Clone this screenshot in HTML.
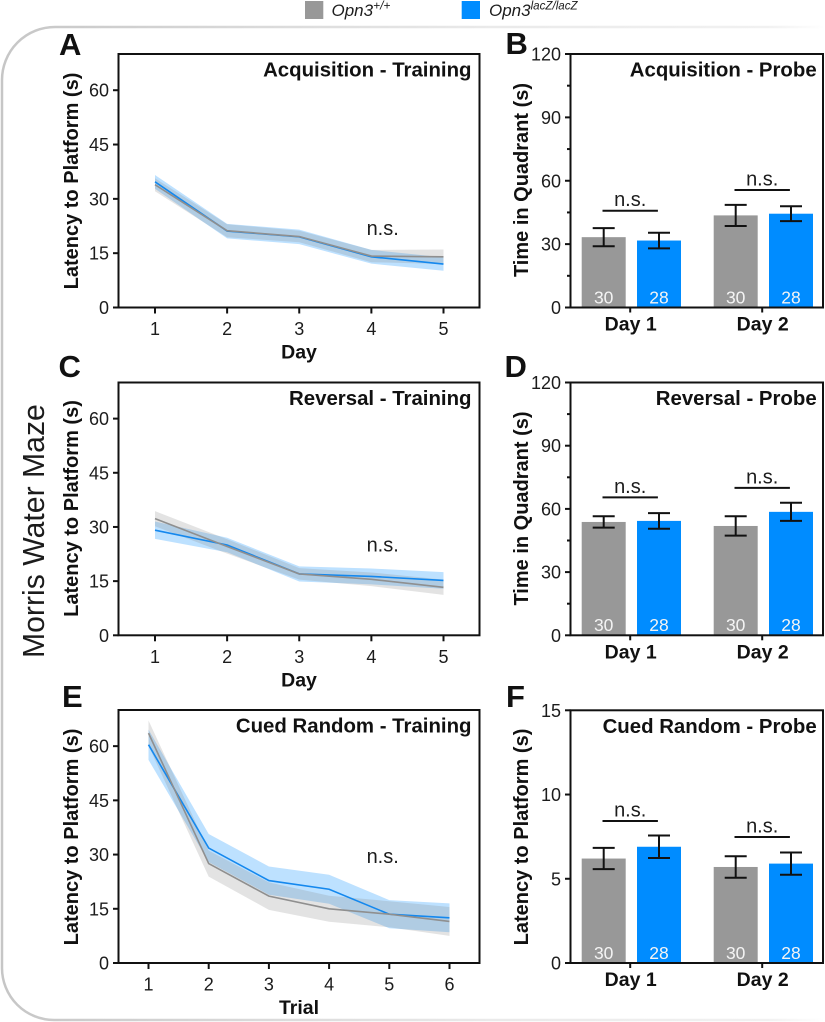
<!DOCTYPE html>
<html lang="en">
<head>
<meta charset="utf-8">
<title>Morris Water Maze</title>
<style>
html,body{margin:0;padding:0;background:#fff;width:825px;height:1022px;overflow:hidden}
svg{display:block;filter:blur(.35px)}
text{font-family:"Liberation Sans",sans-serif;fill:#1c1c1c}
.b{font-weight:bold;fill:#111}
</style>
</head>
<body>
<svg id="fig" xmlns="http://www.w3.org/2000/svg" width="825" height="1022" viewBox="0 0 825 1022">
<defs>
<linearGradient id="edge" gradientUnits="userSpaceOnUse" x1="0" y1="0" x2="825" y2="0">
<stop offset="0" stop-color="#c6c6c6"/><stop offset=".25" stop-color="#d6d6d6"/><stop offset=".6" stop-color="#eaeaea"/><stop offset=".93" stop-color="#f1f1f1"/><stop offset="1" stop-color="#ffffff"/>
</linearGradient>
</defs>
<path d="M825 27 H55 A53 53 0 0 0 2 80 V968 A52 52 0 0 0 54 1020 H825" fill="none" stroke="url(#edge)" stroke-width="2.5"/>
<g>
<rect x="305" y="1" width="18.3" height="18" fill="#989898"/>
<text x="331.5" y="16" font-size="17" font-style="italic">Opn3<tspan dy="-6.500" font-size="12">+/+</tspan></text>
<rect x="461.7" y="1" width="18.3" height="18" fill="#008cff"/>
<text x="489" y="16" font-size="17" font-style="italic">Opn3<tspan dy="-6.500" font-size="11.6">lacZ/lacZ</tspan></text>
</g>
<text transform="translate(44 658) rotate(-90)" font-size="30.2">Morris Water Maze</text>
<text class="b" x="59" y="55" font-size="31">A</text>
<text class="b" x="505.500" y="54" font-size="31">B</text>
<text class="b" x="58.500" y="377" font-size="31">C</text>
<text class="b" x="504.500" y="377" font-size="31">D</text>
<text class="b" x="62" y="707" font-size="31">E</text>
<text class="b" x="506" y="707" font-size="31">F</text>
</svg>
<script>
// Panel A data
const aCategories = [1, 2, 3, 4, 5];
const aWildMean = [33.9, 21.2, 19.6, 14.2, 14.0];
const aWildSem = [1.8, 1.8, 1.6, 1.7, 2.0];
const aKnockMean = [34.7, 21.1, 19.5, 14.0, 12.0];
const aKnockSem = [1.9, 2.0, 2.0, 1.9, 1.85];
// Panel C data
const cCategories = [1, 2, 3, 4, 5];
const cWildMean = [32.3, 24.6, 17.0, 15.5, 13.3];
const cWildSem = [2.1, 2.0, 1.6, 1.9, 2.1];
const cKnockMean = [29.1, 25.0, 17.0, 16.3, 15.2];
const cKnockSem = [2.4, 2.0, 2.1, 2.2, 2.3];
// Panel E data
const eCategories = [1, 2, 3, 4, 5, 6];
const eWildMean = [63.6, 27.5, 18.5, 15.0, 13.5, 11.5];
const eWildSem = [3.5, 3.6, 3.8, 3.6, 3.6, 4.0];
const eKnockMean = [60.4, 31.8, 22.8, 20.4, 13.5, 12.5];
const eKnockSem = [4.2, 3.9, 3.9, 4.0, 3.9, 4.0];
// Shared axis ticks for the training panels
const trainingTicks = [0, 15, 30, 45, 60];
// Panel B data
const bGroups = ["Day 1", "Day 2"];
const bWildMean = [33.3, 43.6];
const bWildSem = [4.3, 5.0];
const bKnockMean = [31.7, 44.4];
const bKnockSem = [3.7, 3.5];
const bBracket = [45.8, 55.6];
// Panel D data
const dGroups = ["Day 1", "Day 2"];
const dWildMean = [53.8, 51.9];
const dWildSem = [2.7, 4.6];
const dKnockMean = [54.3, 58.6];
const dKnockSem = [3.7, 4.3];
const dBracket = [65.5, 70.0];
// Panel F data
const fGroups = ["Day 1", "Day 2"];
const fWildMean = [6.2, 5.7];
const fWildSem = [0.63, 0.64];
const fKnockMean = [6.9, 5.9];
const fKnockSem = [0.67, 0.66];
const fBracket = [8.43, 7.48];
// Probe axis ticks and sample sizes
const quadrantTicks = [0, 30, 60, 90, 120];
const quadrantMinorTicks = [15, 45, 75, 105];
const latencyTicks = [0, 5, 10, 15];
const noMinorTicks = [];
const sampleSizes = [30, 28];

const NS = 'http://www.w3.org/2000/svg';
const fig = document.getElementById('fig');
const INK = '#111';
const WILD = '#8f8f8f';
const KNOCK = '#1488ee';
const WILD_BAR = '#989898';
const KNOCK_BAR = '#008cff';

function make(tag, attrs, parent) {
  const el = document.createElementNS(NS, tag);
  for (const k in attrs) el.setAttribute(k, attrs[k]);
  
  parent.appendChild(el);
  return el;
}
function segment(parent, x1, y1, x2, y2, w) {
  return make('line', {x1: x1, y1: y1, x2: x2, y2: y2, stroke: INK, 'stroke-width': w || 2}, parent);
}
function label(parent, str, x, y, size, anchor, bold) {
  const t = make('text', {x: x, y: y, 'font-size': size, 'text-anchor': anchor || 'middle'}, parent);
  if (bold) t.setAttribute('class', 'b');
  t.textContent = str;
  return t;
}
function vertical(parent, str, x, cy, size) {
  const t = make('text', {transform: 'translate(' + x + ' ' + cy + ') rotate(-90)', 'font-size': size, 'text-anchor': 'middle', 'class': 'b'}, parent);
  t.textContent = str;
  return t;
}
function frame(g, box) {
  const r = make('rect', {x: box.left, y: box.top, width: box.right - box.left, height: box.bottom - box.top, fill: 'none', stroke: INK, 'stroke-width': 2}, g);
  
}
function yAxis(g, box, y, ticks, minor) {
  ticks.forEach(function (v) {
    const t = segment(g, box.left - 5.5, y(v), box.left, y(v));
    
    const l = label(g, String(v), box.left - 9.5, y(v) + 6.5, 18, 'end', false);
    
  });
  minor.forEach(function (v) {
    const t = segment(g, box.left - 3.5, y(v), box.left, y(v));
    
  });
}
function bandPath(xs, mean, sem, y) {
  const upper = mean.map(function (m, i) { return xs[i].toFixed(2) + ' ' + y(m + sem[i]).toFixed(2); });
  const lower = mean.map(function (m, i) { return xs[i].toFixed(2) + ' ' + y(m - sem[i]).toFixed(2); }).reverse();
  return 'M' + upper.join(' L') + ' L' + lower.join(' L') + ' Z';
}
function linePath(xs, mean, y) {
  return 'M' + mean.map(function (m, i) { return xs[i].toFixed(2) + ' ' + y(m).toFixed(2); }).join(' L');
}

function linePanel(p) {
  const g = make('g', {}, fig);
  
  const box = p.box;
  const y = function (v) { return box.bottom - (v / p.yMax) * (box.bottom - box.top); };
  const n = p.categories.length;
  const xs = p.categories.map(function (c, i) { return p.xFirst + (p.xLast - p.xFirst) * i / (n - 1); });

  const bandK = make('path', {d: bandPath(xs, p.knockMean, p.knockSem, y), fill: '#008cff', 'fill-opacity': 0.26}, g);
  
  const bandW = make('path', {d: bandPath(xs, p.wildMean, p.wildSem, y), fill: '#808080', 'fill-opacity': 0.22}, g);
  
  const lineK = make('path', {d: linePath(xs, p.knockMean, y), fill: 'none', stroke: KNOCK, 'stroke-width': 1.6}, g);
  
  const lineW = make('path', {d: linePath(xs, p.wildMean, y), fill: 'none', stroke: WILD, 'stroke-width': 1.6}, g);
  

  frame(g, box);
  yAxis(g, box, y, p.ticks, noMinorTicks);
  xs.forEach(function (x, i) {
    const t = segment(g, x, box.bottom, x, box.bottom + 6);
    
    const l = label(g, String(p.categories[i]), x, box.bottom + 27.5, 18, 'middle', false);
    
  });
  const title = label(g, p.title, box.right - 8, box.top + 22.5, 20.4, 'end', true);
  
  const yTitle = vertical(g, p.yTitle, 78, p.yTitleY, 20);
  
  const xTitle = label(g, p.xTitle, 299, box.bottom + 51, 19.5, 'middle', true);
  
  const ns = label(g, 'n.s.', 382.7, p.nsY, 20, 'middle', false);
  
}

function barPanel(p) {
  const g = make('g', {}, fig);
  
  const box = p.box;
  const y = function (v) { return box.bottom - (v / p.yMax) * (box.bottom - box.top); };
  const groupX = function (i) { return 630.2 + i * 132; };
  const barW = 44;

  p.groups.forEach(function (name, i) {
    const cx = groupX(i);
    const series = [
      {mean: p.wildMean[i], sem: p.wildSem[i], fill: WILD_BAR, x: cx - 48.5, n: sampleSizes[0], kind: 'wild-type'},
      {mean: p.knockMean[i], sem: p.knockSem[i], fill: KNOCK_BAR, x: cx + 6.8, n: sampleSizes[1], kind: 'knockout'}
    ];
    series.forEach(function (s) {
      const bar = make('rect', {x: s.x, y: y(s.mean), width: barW, height: box.bottom - y(s.mean), fill: s.fill}, g);
      
      const mid = s.x + barW / 2;
      const stem = segment(g, mid, y(s.mean + s.sem), mid, y(s.mean - s.sem), 2);
      
      const capT = segment(g, mid - 11, y(s.mean + s.sem), mid + 11, y(s.mean + s.sem), 2);
      
      const capB = segment(g, mid - 11, y(s.mean - s.sem), mid + 11, y(s.mean - s.sem), 2);
      
      const count = label(g, String(s.n), mid, box.bottom - 4.2, 17.5, 'middle', false);
      count.setAttribute('style', 'fill:#f4f4f4');
      
    });
    const by = y(p.bracket[i]);
    const br = segment(g, cx - 27.7, by, cx + 27.7, by, 2);
    
    const ns = label(g, 'n.s.', cx, by - 4.5, 20, 'middle', false);
    
    const t = segment(g, cx, box.bottom, cx, box.bottom + 5);
    
    const l = label(g, name, cx + 0.5, box.bottom + 23, 19.5, 'middle', true);
    
  });

  frame(g, box);
  yAxis(g, box, y, p.ticks, p.minor);
  const title = label(g, p.title, box.right - 6.3, box.top + 22.5, 20.4, 'end', true);
  
  const yTitle = vertical(g, p.yTitle, 528, p.yTitleY, 20);
  
}

linePanel({name: 'panel-a-acquisition-training', box: {left: 118.5, right: 479.5, top: 54, bottom: 307.5}, yMax: 70,
  categories: aCategories, wildMean: aWildMean, wildSem: aWildSem, knockMean: aKnockMean, knockSem: aKnockSem, ticks: trainingTicks,
  xFirst: 155, xLast: 443.5, title: 'Acquisition - Training', yTitle: 'Latency to Platform (s)', yTitleY: 181, xTitle: 'Day', nsY: 235});
linePanel({name: 'panel-c-reversal-training', box: {left: 118.5, right: 479.5, top: 382.5, bottom: 635.3}, yMax: 70,
  categories: cCategories, wildMean: cWildMean, wildSem: cWildSem, knockMean: cKnockMean, knockSem: cKnockSem, ticks: trainingTicks,
  xFirst: 155, xLast: 443.5, title: 'Reversal - Training', yTitle: 'Latency to Platform (s)', yTitleY: 508.5, xTitle: 'Day', nsY: 551.7});
linePanel({name: 'panel-e-cued-random-training', box: {left: 118.5, right: 479.5, top: 710, bottom: 963}, yMax: 70,
  categories: eCategories, wildMean: eWildMean, wildSem: eWildSem, knockMean: eKnockMean, knockSem: eKnockSem, ticks: trainingTicks,
  xFirst: 148.5, xLast: 449.5, title: 'Cued Random - Training', yTitle: 'Latency to Platform (s)', yTitleY: 837, xTitle: 'Trial', nsY: 863});
barPanel({name: 'panel-b-acquisition-probe', box: {left: 570.5, right: 823, top: 54, bottom: 307.5}, yMax: 120,
  groups: bGroups, wildMean: bWildMean, wildSem: bWildSem, knockMean: bKnockMean, knockSem: bKnockSem, bracket: bBracket,
  ticks: quadrantTicks, minor: quadrantMinorTicks, title: 'Acquisition - Probe', yTitle: 'Time in Quadrant (s)', yTitleY: 180});
barPanel({name: 'panel-d-reversal-probe', box: {left: 570.5, right: 823, top: 382.5, bottom: 635.3}, yMax: 120,
  groups: dGroups, wildMean: dWildMean, wildSem: dWildSem, knockMean: dKnockMean, knockSem: dKnockSem, bracket: dBracket,
  ticks: quadrantTicks, minor: quadrantMinorTicks, title: 'Reversal - Probe', yTitle: 'Time in Quadrant (s)', yTitleY: 508.5});
barPanel({name: 'panel-f-cued-random-probe', box: {left: 570.5, right: 823, top: 710.3, bottom: 963}, yMax: 15,
  groups: fGroups, wildMean: fWildMean, wildSem: fWildSem, knockMean: fKnockMean, knockSem: fKnockSem, bracket: fBracket,
  ticks: latencyTicks, minor: noMinorTicks, title: 'Cued Random - Probe', yTitle: 'Latency to Platform (s)', yTitleY: 837});
</script>
</body>
</html>
